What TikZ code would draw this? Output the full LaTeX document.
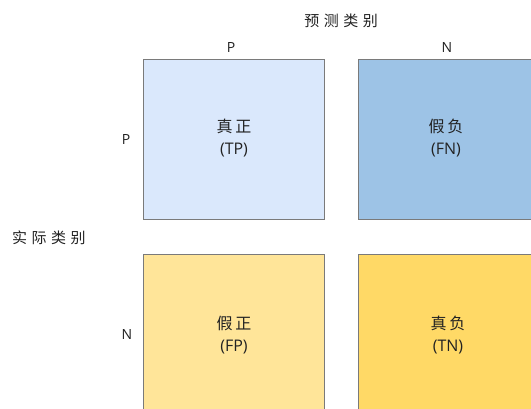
\documentclass[tikz,border=0pt]{standalone}
\usepackage{fontspec}
\setmainfont{Open Sans}
\newfontfamily\cjk{Noto Sans CJK SC}
\definecolor{tpfill}{HTML}{DAE8FC}
\definecolor{fnfill}{HTML}{9DC3E6}
\definecolor{fpfill}{HTML}{FFE599}
\definecolor{tnfill}{HTML}{FFD966}
\definecolor{boxline}{HTML}{7A7A7A}
\definecolor{txt}{HTML}{222222}
\begin{document}
\begin{tikzpicture}[x=1pt,y=-1pt,
  cell/.style={draw=boxline, line width=0.8pt, minimum width=181pt, minimum height=160pt,
    inner sep=0pt, anchor=north west},
  celltext/.style={align=center, text=txt, font=\fontsize{16}{22}\selectfont},
  lbl/.style={text=txt, font=\fontsize{14}{16}\selectfont, inner sep=0pt},
  cat/.style={text=txt, font=\cjk\fontsize{15}{17}\selectfont, inner sep=0pt}]
\useasboundingbox (0,0) rectangle (531,408);
\clip (0,0) rectangle (531,408);
\fill[white] (0,0) rectangle (531,408);
\node[cell, fill=tpfill] (tp) at (143,59) {};
\node[cell, fill=fnfill] (fn) at (358,59) {};
\node[cell, fill=fpfill] (fp) at (143,254) {};
\node[cell, fill=tnfill] (tn) at (358,254) {};
\node[celltext] (tpt) at (234,138.5) {{\cjk 真\kern3pt 正}\\(TP)};
\node[celltext] (fnt) at (446,138.5) {{\cjk 假\kern3pt 负}\\(FN)};
\node[celltext] (fpt) at (234,335) {{\cjk 假\kern3pt 正}\\(FP)};
\node[celltext] (tnt) at (448,335) {{\cjk 真\kern3pt 负}\\(TN)};
\node[cat] (pred) at (341,21) {预\kern4.5pt 测\kern4.5pt 类\kern4.5pt 别};
\node[cat] (act) at (49,238) {实\kern4.5pt 际\kern4.5pt 类\kern4.5pt 别};
\node[lbl] (pp) at (231,47) {P};
\node[lbl] (pn) at (447,47) {N};
\node[lbl] (ap) at (126,139) {P};
\node[lbl] (an) at (127,334) {N};
\end{tikzpicture}
\end{document}
